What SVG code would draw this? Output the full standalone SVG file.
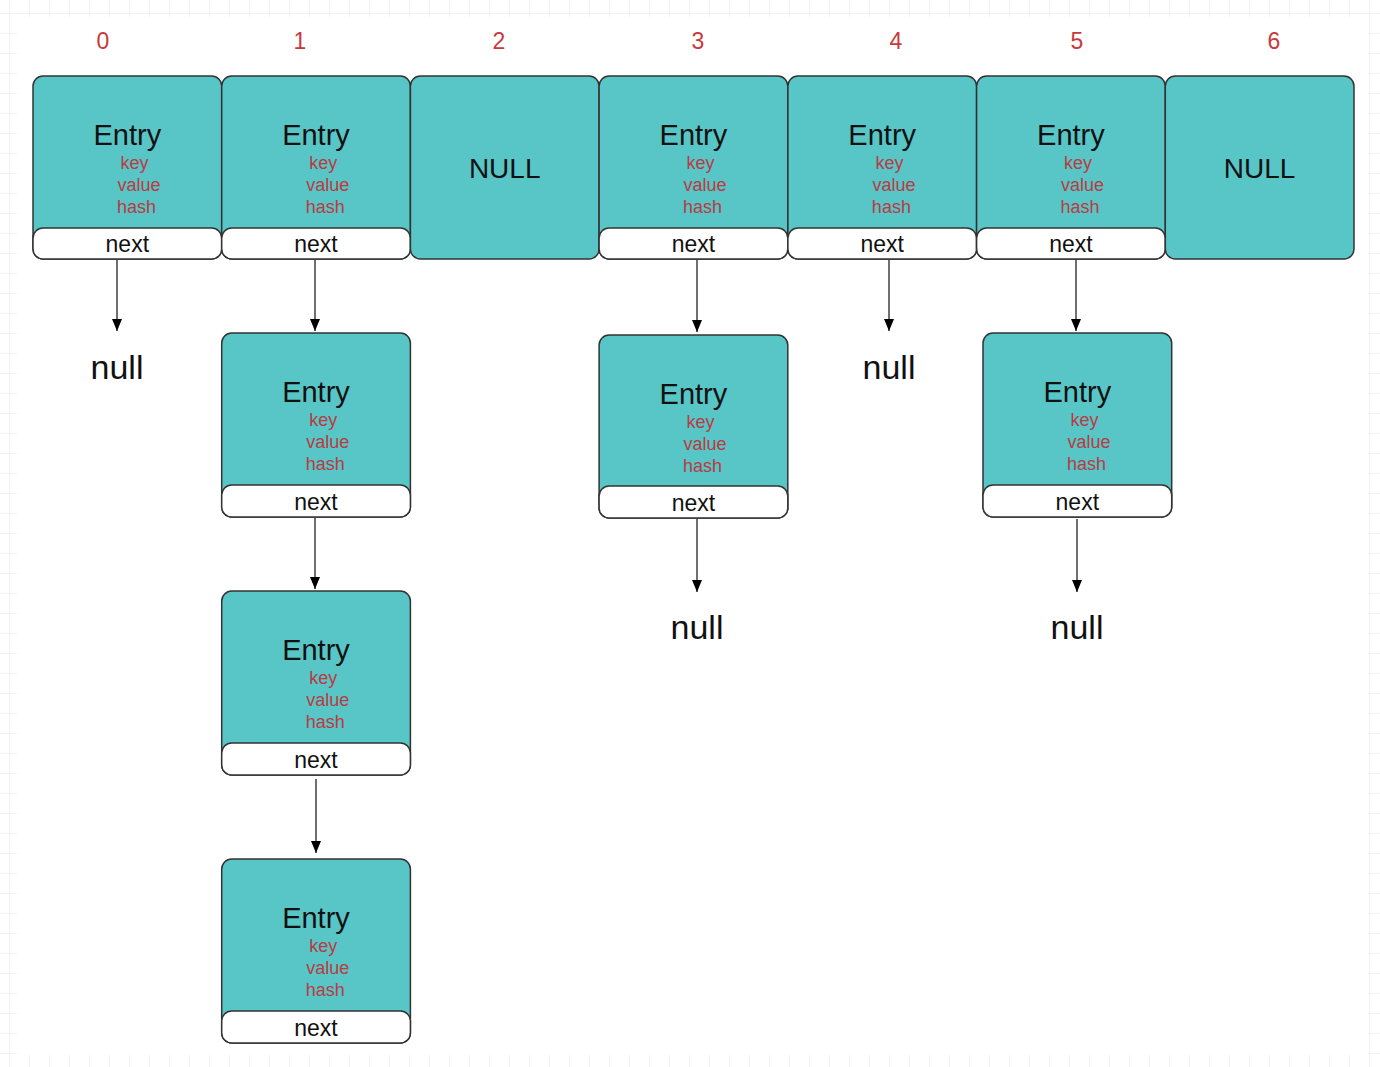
<svg xmlns="http://www.w3.org/2000/svg" width="1380" height="1067" viewBox="0 0 1380 1067">
<defs>
<pattern id="grid" x="9" y="13" width="20" height="20" patternUnits="userSpaceOnUse">
<path d="M0 0V20M0 0H20" fill="none" stroke="#e6e6e6" stroke-width="1"/>
</pattern>
<marker id="arr" viewBox="0 0 12 10" refX="12" refY="5" markerWidth="12" markerHeight="10" markerUnits="userSpaceOnUse" orient="auto">
<path d="M0 0L12 5L0 10Z" fill="#000"/>
</marker>
<style>
.box{fill:#58c5c7;stroke:#333;stroke-width:1.5}
.nx{fill:#fff;stroke:#333;stroke-width:1.5}
.t{font-family:"Liberation Sans",Arial,sans-serif;text-anchor:middle}
.en{font-size:29px;fill:#111}
.f{font-size:18px;fill:#b83c42}
.nt{font-size:23px;fill:#111}
.idx{font-size:23px;fill:#c8393b}
.nul{font-size:34px;fill:#111}
.NUL{font-size:28px;fill:#111}
.cn{stroke:#222;stroke-width:1.3;fill:none;marker-end:url(#arr)}
</style>
</defs>
<rect width="1380" height="1067" fill="#fff"/>
<rect width="1380" height="1067" fill="url(#grid)"/>
<rect x="17" y="17" width="1351" height="1038" fill="#fff"/>

<g id="indices" class="t idx">
<text x="103" y="49">0</text>
<text x="300" y="49">1</text>
<text x="499" y="49">2</text>
<text x="698" y="49">3</text>
<text x="896" y="49">4</text>
<text x="1077" y="49">5</text>
<text x="1274" y="49">6</text>
</g>

<g id="bucket0" transform="translate(33,76)">
<rect class="box" x="0" y="0" width="188.7" height="183" rx="10"/>
<rect class="nx" x="0" y="152" width="188.7" height="31" rx="10"/>
<text class="t en" x="94.3" y="69">Entry</text>
<text class="t f" x="101.5" y="93">key</text>
<text class="t f" x="106" y="115">value</text>
<text class="t f" x="103.5" y="137">hash</text>
<text class="t nt" x="94.3" y="176">next</text>
</g>
<g id="bucket1" transform="translate(221.7,76)">
<rect class="box" x="0" y="0" width="188.7" height="183" rx="10"/>
<rect class="nx" x="0" y="152" width="188.7" height="31" rx="10"/>
<text class="t en" x="94.3" y="69">Entry</text>
<text class="t f" x="101.5" y="93">key</text>
<text class="t f" x="106" y="115">value</text>
<text class="t f" x="103.5" y="137">hash</text>
<text class="t nt" x="94.3" y="176">next</text>
</g>
<g id="bucket2" transform="translate(410.4,76)">
<rect class="box" x="0" y="0" width="188.7" height="183" rx="10"/>
<text class="t NUL" x="94.3" y="102">NULL</text>
</g>
<g id="bucket3" transform="translate(599.1,76)">
<rect class="box" x="0" y="0" width="188.7" height="183" rx="10"/>
<rect class="nx" x="0" y="152" width="188.7" height="31" rx="10"/>
<text class="t en" x="94.3" y="69">Entry</text>
<text class="t f" x="101.5" y="93">key</text>
<text class="t f" x="106" y="115">value</text>
<text class="t f" x="103.5" y="137">hash</text>
<text class="t nt" x="94.3" y="176">next</text>
</g>
<g id="bucket4" transform="translate(787.9,76)">
<rect class="box" x="0" y="0" width="188.7" height="183" rx="10"/>
<rect class="nx" x="0" y="152" width="188.7" height="31" rx="10"/>
<text class="t en" x="94.3" y="69">Entry</text>
<text class="t f" x="101.5" y="93">key</text>
<text class="t f" x="106" y="115">value</text>
<text class="t f" x="103.5" y="137">hash</text>
<text class="t nt" x="94.3" y="176">next</text>
</g>
<g id="bucket5" transform="translate(976.6,76)">
<rect class="box" x="0" y="0" width="188.7" height="183" rx="10"/>
<rect class="nx" x="0" y="152" width="188.7" height="31" rx="10"/>
<text class="t en" x="94.3" y="69">Entry</text>
<text class="t f" x="101.5" y="93">key</text>
<text class="t f" x="106" y="115">value</text>
<text class="t f" x="103.5" y="137">hash</text>
<text class="t nt" x="94.3" y="176">next</text>
</g>
<g id="bucket6" transform="translate(1165.3,76)">
<rect class="box" x="0" y="0" width="188.7" height="183" rx="10"/>
<text class="t NUL" x="94.3" y="102">NULL</text>
</g>

<g id="entry1b" transform="translate(221.7,333)">
<rect class="box" x="0" y="0" width="188.7" height="184" rx="10"/>
<rect class="nx" x="0" y="152" width="188.7" height="32" rx="10"/>
<text class="t en" x="94.3" y="69">Entry</text>
<text class="t f" x="101.5" y="93">key</text>
<text class="t f" x="106" y="115">value</text>
<text class="t f" x="103.5" y="137">hash</text>
<text class="t nt" x="94.3" y="177">next</text>
</g>
<g id="entry1c" transform="translate(221.7,591)">
<rect class="box" x="0" y="0" width="188.7" height="184" rx="10"/>
<rect class="nx" x="0" y="152" width="188.7" height="32" rx="10"/>
<text class="t en" x="94.3" y="69">Entry</text>
<text class="t f" x="101.5" y="93">key</text>
<text class="t f" x="106" y="115">value</text>
<text class="t f" x="103.5" y="137">hash</text>
<text class="t nt" x="94.3" y="177">next</text>
</g>
<g id="entry1d" transform="translate(221.7,859)">
<rect class="box" x="0" y="0" width="188.7" height="184" rx="10"/>
<rect class="nx" x="0" y="152" width="188.7" height="32" rx="10"/>
<text class="t en" x="94.3" y="69">Entry</text>
<text class="t f" x="101.5" y="93">key</text>
<text class="t f" x="106" y="115">value</text>
<text class="t f" x="103.5" y="137">hash</text>
<text class="t nt" x="94.3" y="177">next</text>
</g>
<g id="entry3b" transform="translate(599.1,335)">
<rect class="box" x="0" y="0" width="188.7" height="183" rx="10"/>
<rect class="nx" x="0" y="151" width="188.7" height="32" rx="10"/>
<text class="t en" x="94.3" y="69">Entry</text>
<text class="t f" x="101.5" y="93">key</text>
<text class="t f" x="106" y="115">value</text>
<text class="t f" x="103.5" y="137">hash</text>
<text class="t nt" x="94.3" y="176">next</text>
</g>
<g id="entry5b" transform="translate(983,333)">
<rect class="box" x="0" y="0" width="188.7" height="184" rx="10"/>
<rect class="nx" x="0" y="152" width="188.7" height="32" rx="10"/>
<text class="t en" x="94.3" y="69">Entry</text>
<text class="t f" x="101.5" y="93">key</text>
<text class="t f" x="106" y="115">value</text>
<text class="t f" x="103.5" y="137">hash</text>
<text class="t nt" x="94.3" y="177">next</text>
</g>

<g id="null0"><text class="t nul" x="117" y="379">null</text></g>
<g id="null4"><text class="t nul" x="889" y="379">null</text></g>
<g id="null3"><text class="t nul" x="697" y="639">null</text></g>
<g id="null5"><text class="t nul" x="1077" y="639">null</text></g>

<g id="connectors">
<line class="cn" x1="117" y1="260" x2="117" y2="331"/>
<line class="cn" x1="315" y1="260" x2="315" y2="331"/>
<line class="cn" x1="697" y1="260" x2="697" y2="332"/>
<line class="cn" x1="889" y1="260" x2="889" y2="331"/>
<line class="cn" x1="1076" y1="260" x2="1076" y2="331"/>
<line class="cn" x1="315" y1="518" x2="315" y2="589"/>
<line class="cn" x1="316" y1="779" x2="316" y2="853"/>
<line class="cn" x1="697" y1="519" x2="697" y2="592"/>
<line class="cn" x1="1077" y1="519" x2="1077" y2="592"/>
</g>
</svg>
